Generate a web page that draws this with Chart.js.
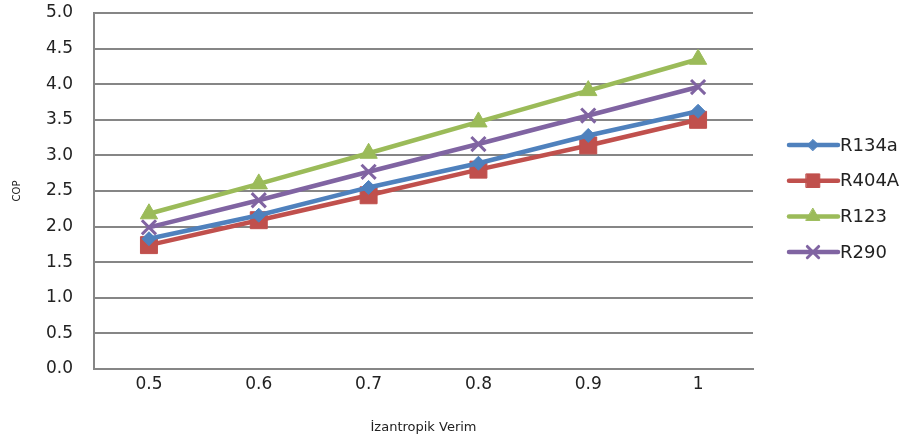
<!DOCTYPE html>
<html>
<head>
<meta charset="utf-8">
<script src="https://cdn.jsdelivr.net/npm/chart.js@4"></script>
<style>
  html, body { margin: 0; padding: 0; background: #fff; }
  #wrap { position: relative; width: 904px; height: 441px; }
</style>
</head>
<body>
<div id="wrap"><canvas id="copChart"></canvas></div>
<script>
// isentropic efficiency vs COP
const categories = ['0.5', '0.6', '0.7', '0.8', '0.9', '1'];
const r134a = [1.83, 2.16, 2.55, 2.89, 3.28, 3.62];
const r404a = [1.74, 2.09, 2.44, 2.80, 3.14, 3.50];
const r123  = [2.18, 2.60, 3.03, 3.47, 3.91, 4.35];
const r290  = [1.99, 2.37, 2.77, 3.16, 3.56, 3.96];
const yTicks = [0, 0.5, 1, 1.5, 2, 2.5, 3, 3.5, 4, 4.5, 5];

const FONT = '"DejaVu Sans", "Liberation Sans", sans-serif';

const series = [
    { label: 'R134a', data: r134a, color: '#4F81BD', style: 'rectRot', radius: 7 },
    { label: 'R404A', data: r404a, color: '#C0504D', style: 'rect', radius: 12 },
    { label: 'R123',  data: r123,  color: '#9BBB59', style: 'triangle', radius: 10 },
    { label: 'R290',  data: r290,  color: '#8064A2', style: 'crossRot', radius: 10 }
];

// legend on the right: short line with marker through it
const sideLegend = {
    id: 'sideLegend',
    afterDraw(chart) {
        const ctx = chart.ctx;
        ctx.save();
        chart.data.datasets.forEach((ds, i) => {
            const y = 145 + i * 35.7;
            ctx.strokeStyle = ds.borderColor;
            ctx.lineWidth = 4.5;
            ctx.lineCap = 'round';
            ctx.beginPath();
            ctx.moveTo(789, y);
            ctx.lineTo(838, y);
            ctx.stroke();
            ctx.lineWidth = ds.pointStyle === 'crossRot' ? 3 : 1;
            ctx.fillStyle = ds.pointBackgroundColor;
            Chart.helpers.drawPoint(ctx, {
                pointStyle: ds.pointStyle,
                radius: ds.pointRadius * 0.8,
                rotation: 0,
                borderWidth: ctx.lineWidth
            }, 813, y);
            ctx.fillStyle = '#222';
            ctx.font = '18px ' + FONT;
            ctx.textBaseline = 'middle';
            ctx.fillText(ds.label, 840, y + 1);
        });
        ctx.restore();
    }
};

const ctx = document.getElementById('copChart').getContext('2d');
new Chart(ctx, {
    type: 'line',
    data: {
        labels: categories,
        datasets: series.map(s => ({
            label: s.label,
            data: s.data,
            borderColor: s.color,
            backgroundColor: s.color,
            borderWidth: 4.5,
            tension: 0,
            pointStyle: s.style,
            pointRadius: s.radius,
            pointBackgroundColor: s.color,
            pointBorderColor: s.color,
            pointBorderWidth: s.style === 'crossRot' ? 3 : 1
        }))
    },
    options: {
        responsive: true,
        maintainAspectRatio: false,
        animation: false,
        layout: { padding: { top: 0, right: 151, left: 7, bottom: 2 } },
        plugins: {
            legend: { display: false },
            tooltip: { enabled: false }
        },
        scales: {
            x: {
                offset: true,
                grid: { display: false, drawTicks: false },
                border: { display: true, color: '#868686', width: 2 },
                ticks: { color: '#222', padding: 5.5, font: { family: FONT, size: 17 } },
                title: {
                    display: true,
                    text: 'İzantropik Verim',
                    color: '#222',
                    padding: { top: 19 },
                    font: { family: FONT, size: 13 }
                }
            },
            y: {
                min: 0,
                max: 5,
                afterBuildTicks: axis => { axis.ticks = yTicks.map(v => ({ value: v })); },
                grid: { color: '#868686', lineWidth: 2, drawTicks: true, tickLength: 19, tickColor: 'rgba(0,0,0,0)' },
                border: { display: true, color: '#868686', width: 2 },
                ticks: {
                    color: '#222',
                    padding: 2,
                    font: { family: FONT, size: 17 },
                    callback: v => Number(v).toFixed(1)
                },
                title: {
                    display: true,
                    text: 'COP',
                    color: '#222',
                    padding: { bottom: 21 },
                    font: { family: FONT, size: 10 }
                }
            }
        }
    },
    plugins: [sideLegend]
});
</script>
</body>
</html>
